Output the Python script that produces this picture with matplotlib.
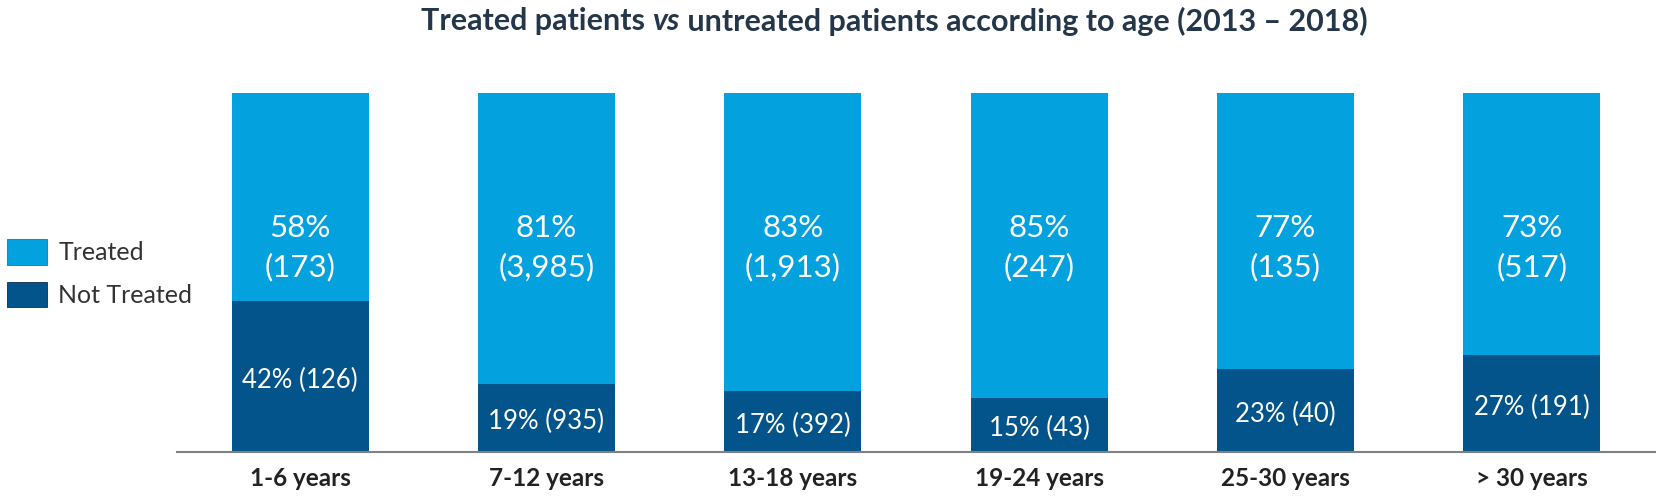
import matplotlib
matplotlib.use("Agg")
import matplotlib.pyplot as plt
import numpy as np
from matplotlib.patches import Patch

plt.rcParams["font.family"] = ["Lato", "DejaVu Sans"]

# data
age_groups = ["1-6 years", "7-12 years", "13-18 years", "19-24 years", "25-30 years", "> 30 years"]
not_treated_pct = [42, 19, 17, 15, 23, 27]
treated_pct = [58, 81, 83, 85, 77, 73]
not_treated_n = [126, 935, 392, 43, 40, 191]
treated_n = [173, 3985, 1913, 247, 135, 517]

LIGHT = "#03a2df"
DARK = "#03548a"
TEXT = "#222222"
TITLE = "#24364a"

fig = plt.figure(figsize=(16.63, 5.01), dpi=100)
ax = fig.add_axes([0.1064, 0.0978, 0.8888, 0.7166])

x = np.arange(len(age_groups))
width = 0.556
ax.bar(x, not_treated_pct, width, color=DARK, label="Not Treated")
ax.bar(x, treated_pct, width, bottom=not_treated_pct, color=LIGHT, label="Treated")

for i in range(len(age_groups)):
    ax.text(x[i], not_treated_pct[i] / 2 - 1, f"{not_treated_pct[i]}% ({not_treated_n[i]:,})",
            ha="center", va="center", color="white", fontsize=18.5)
    ax.text(x[i], 57, f"{treated_pct[i]}%\n({treated_n[i]:,})",
            ha="center", va="center", color="white", fontsize=22.5, linespacing=1.45)

ax.set_xlim(-0.5, 5.5)
ax.set_ylim(0, 100)
ax.set_xticks(x)
ax.set_xticklabels(age_groups, fontsize=17.5, fontweight="bold", color=TEXT)
ax.tick_params(axis="x", length=0, pad=11)
ax.set_yticks([])
for side in ["top", "right", "left"]:
    ax.spines[side].set_visible(False)
ax.spines["bottom"].set_color("#808080")
ax.spines["bottom"].set_linewidth(1.5)

handles = [Patch(facecolor=LIGHT, edgecolor="#2a6f97", linewidth=0.6, label="Treated"),
           Patch(facecolor=DARK, edgecolor="#0d2f4f", linewidth=0.6, label="Not Treated")]
fig.legend(handles=handles, loc="upper left", bbox_to_anchor=(7 / 1663, 1 - 239 / 501),
           frameon=False, fontsize=18, handlelength=1.6, handleheight=1.2,
           handletextpad=0.45, labelspacing=0.68, borderpad=0, borderaxespad=0,
           labelcolor="#333333")

# title with italic "vs"
parts = [("Treated patients ", "normal"), ("vs", "italic"),
         (" untreated patients according to age (2013 \u2013 2018)", "normal")]
renderer = fig.canvas.get_renderer()
texts = []
for s, style in parts:
    t = fig.text(0, 0.958, s, fontsize=22, fontweight="bold", style=style,
                 color=TITLE, va="center", ha="left")
    texts.append(t)
widths = [t.get_window_extent(renderer).width for t in texts]
x0 = 894 - sum(widths) / 2
for t, w in zip(texts, widths):
    t.set_x(x0 / fig.bbox.width)
    x0 += w

fig.savefig("out.png", dpi=100)
